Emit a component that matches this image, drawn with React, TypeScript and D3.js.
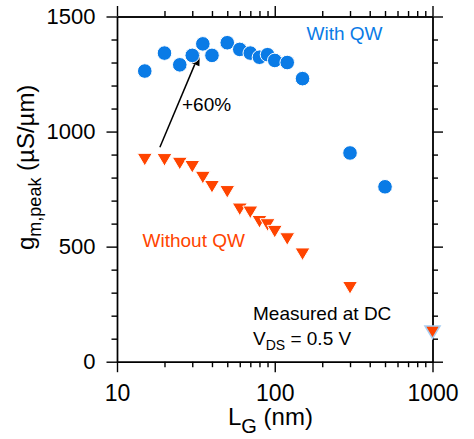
import { useEffect, useRef } from 'react';
import * as d3 from 'd3';

// gate length (nm) and peak transconductance (µS/µm)
const qwLength = [15, 20, 25, 30, 35, 40, 50, 60, 70, 80, 90, 100, 120, 150, 300, 500];
const qwGm = [1263, 1341, 1290, 1331, 1381, 1331, 1386, 1357, 1341, 1323, 1334, 1309, 1300, 1230, 907, 760];

const noQwLength = [15, 20, 25, 30, 35, 40, 50, 60, 70, 80, 90, 100, 120, 150, 300, 1000];
const noQwGm = [878, 877, 861, 847, 800, 760, 738, 662, 649, 608, 594, 565, 533, 467, 321, 128];

const xMajorTicks = [10, 100, 1000];
const xMinorTicks = [20, 30, 40, 50, 60, 70, 80, 90, 200, 300, 400, 500, 600, 700, 800, 900];
const yMajorTicks = [0, 500, 1000, 1500];
const yMinorTicks = [100, 200, 300, 400, 600, 700, 800, 900, 1100, 1200, 1300, 1400];

// arrow annotation (data space): from -> to
const arrowFrom = { L: 18.7, gm: 932 };
const arrowTo = { L: 33.5, gm: 1344 };

const BLUE = '#0a7be6';
const RED = '#ff4400';
const FONT = '"Liberation Sans", Arial, Helvetica, sans-serif';

const W = 474;
const H = 439;

export default function App() {
  const svgRef = useRef<SVGSVGElement>(null);

  useEffect(() => {
    if (!svgRef.current) return;
    const svg = d3.select(svgRef.current);
    svg.selectAll('*').remove();

    const x = d3.scaleLog().domain([10, 1000]).range([117, 432.5]);
    const y = d3.scaleLinear().domain([0, 1500]).range([361.7, 16.5]);

    const axisG = svg.append('g').attr('font-family', FONT);

    const styleAxis = (g: any) => {
      g.selectAll('path').attr('stroke', '#000').attr('stroke-width', 1.4);
      g.selectAll('line').attr('stroke', '#000').attr('stroke-width', 1.4);
    };

    // minor ticks
    axisG.append('g').attr('transform', `translate(0,${y(0)})`)
      .call(d3.axisBottom(x).tickValues(xMinorTicks).tickSize(5.5).tickSizeOuter(0).tickFormat(() => ''))
      .call(styleAxis);
    axisG.append('g').attr('transform', `translate(0,${y(1500)})`)
      .call(d3.axisTop(x).tickValues(xMinorTicks).tickSize(5.5).tickSizeOuter(0).tickFormat(() => ''))
      .call(styleAxis);
    axisG.append('g').attr('transform', `translate(${x(10)},0)`)
      .call(d3.axisLeft(y).tickValues(yMinorTicks).tickSize(5.5).tickSizeOuter(0).tickFormat(() => ''))
      .call(styleAxis);
    axisG.append('g').attr('transform', `translate(${x(1000)},0)`)
      .call(d3.axisRight(y).tickValues(yMinorTicks).tickSize(5.5).tickSizeOuter(0).tickFormat(() => ''))
      .call(styleAxis);

    // major ticks
    const bottom = axisG.append('g').attr('transform', `translate(0,${y(0)})`)
      .call(d3.axisBottom(x).tickValues(xMajorTicks).tickSize(10.5).tickSizeOuter(0).tickPadding(12)
        .tickFormat((d: any) => String(d)))
      .call(styleAxis);
    bottom.selectAll('text').attr('font-size', 23).attr('fill', '#000').attr('font-family', FONT);

    axisG.append('g').attr('transform', `translate(0,${y(1500)})`)
      .call(d3.axisTop(x).tickValues(xMajorTicks).tickSize(10.5).tickSizeOuter(0).tickFormat(() => ''))
      .call(styleAxis);

    const left = axisG.append('g').attr('transform', `translate(${x(10)},0)`)
      .call(d3.axisLeft(y).tickValues(yMajorTicks).tickSize(10.5).tickSizeOuter(0).tickPadding(11)
        .tickFormat((d: any) => String(d)))
      .call(styleAxis);
    left.selectAll('text').attr('font-size', 22).attr('fill', '#000').attr('font-family', FONT);

    axisG.append('g').attr('transform', `translate(${x(1000)},0)`)
      .call(d3.axisRight(y).tickValues(yMajorTicks).tickSize(10.5).tickSizeOuter(0).tickFormat(() => ''))
      .call(styleAxis);

    // arrow
    const ax0 = x(arrowFrom.L), ay0 = y(arrowFrom.gm);
    const ax1 = x(arrowTo.L), ay1 = y(arrowTo.gm);
    const ang = Math.atan2(ay1 - ay0, ax1 - ax0);
    const headLen = 13, headW = 5;
    const bx = ax1 - headLen * Math.cos(ang), by = ay1 - headLen * Math.sin(ang);
    svg.append('line')
      .attr('x1', ax0).attr('y1', ay0).attr('x2', bx).attr('y2', by)
      .attr('stroke', '#000').attr('stroke-width', 1.5);
    svg.append('path')
      .attr('d', `M${ax1},${ay1} L${bx + headW * Math.sin(ang)},${by - headW * Math.cos(ang)} L${bx - headW * Math.sin(ang)},${by + headW * Math.cos(ang)} Z`)
      .attr('fill', '#000');

    // without QW triangles
    const tri = (cx: number, cy: number) => `M${cx - 7.5},${cy - 6.3} L${cx + 7.5},${cy - 6.3} L${cx},${cy + 6.3} Z`;
    svg.append('g')
      .selectAll('path')
      .data(noQwLength.map((L, i) => ({ L, gm: noQwGm[i] })))
      .enter()
      .append('path')
      .attr('d', d => tri(x(d.L), y(d.gm)))
      .attr('fill', RED)
      .attr('stroke', d => (d.L === 1000 ? '#a9cff2' : '#fff'))
      .attr('stroke-width', d => (d.L === 1000 ? 1.6 : 1));

    // with QW circles
    svg.append('g')
      .selectAll('circle')
      .data(qwLength.map((L, i) => ({ L, gm: qwGm[i] })))
      .enter()
      .append('circle')
      .attr('cx', d => x(d.L))
      .attr('cy', d => y(d.gm))
      .attr('r', 7.3)
      .attr('fill', BLUE)
      .attr('stroke', '#fff')
      .attr('stroke-width', 1);

    // annotations
    const txt = svg.append('g').attr('font-family', FONT);
    txt.append('text').attr('x', 306.5).attr('y', 40).attr('font-size', 19).attr('fill', BLUE).text('With QW');
    txt.append('text').attr('x', 142.5).attr('y', 246.5).attr('font-size', 19).attr('fill', RED).text('Without QW');
    txt.append('text').attr('x', 182).attr('y', 111).attr('font-size', 19).attr('fill', '#000').text('+60%');
    txt.append('text').attr('x', 253).attr('y', 320).attr('font-size', 19).attr('fill', '#000').text('Measured at DC');
    const vds = txt.append('text').attr('x', 253).attr('y', 345).attr('font-size', 19).attr('fill', '#000');
    vds.append('tspan').text('V');
    vds.append('tspan').attr('font-size', 14).attr('dy', 5).text('DS');
    vds.append('tspan').attr('dy', -5).text(' = 0.5 V');

    // x label
    const xl = txt.append('text').attr('x', 228).attr('y', 425).attr('font-size', 24).attr('fill', '#000');
    xl.append('tspan').text('L');
    xl.append('tspan').attr('font-size', 20).attr('dy', 8).text('G');
    xl.append('tspan').attr('dy', -8).text('\u00a0(nm)');

    // y label
    const yl = txt.append('text').attr('transform', 'translate(34,250) rotate(-90)').attr('font-size', 24).attr('fill', '#000');
    yl.append('tspan').text('g');
    yl.append('tspan').attr('font-size', 18).attr('dy', 7).text('m,peak');
    yl.append('tspan').attr('dy', -7).text('\u00a0(\u00b5S/\u00b5m)');
  }, []);

  return (
    <svg
      ref={svgRef}
      width={W}
      height={H}
      style={{ position: 'absolute', left: 0, top: 0, background: '#fff' }}
    />
  );
}
